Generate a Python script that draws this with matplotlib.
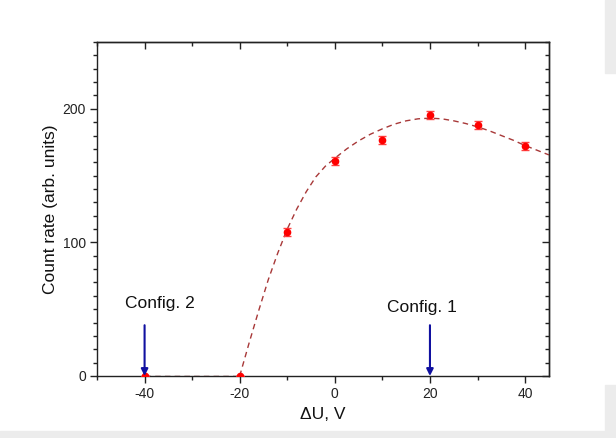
import matplotlib
matplotlib.use("Agg")
import matplotlib.pyplot as plt
from matplotlib.ticker import MultipleLocator
from matplotlib.patches import Rectangle

plt.rcParams['font.family'] = ['Liberation Sans', 'DejaVu Sans']
plt.rcParams['axes.unicode_minus'] = False

# measured count rate vs. retarding voltage
du = [-40, -20, -10, 0, 10, 20, 30, 40]
rate = [0, 0, 108, 161, 177, 195, 188, 172]
rate_err = [0, 0, 3, 3, 3, 3, 3, 3]

# fit curve (zero below threshold, then rising branch)
flat_x = [-40, -20]
flat_y = [0, 0]
fit_x = [-20, -18, -16, -14, -12, -10, -8, -6, -4, -2, 0, 2.5, 5, 7.5, 10,
         12.5, 15, 17.5, 20, 22.5, 25, 27.5, 30, 32.5, 35, 37.5, 40, 42.5, 45]
fit_y = [0, 25, 49, 72, 92, 110, 125, 138, 149, 157, 163, 170, 176, 181, 185,
         188.5, 191, 192.5, 193, 192.5, 191, 189, 186.5, 183.5, 180, 176.5, 172.5, 169, 165.5]

# configuration markers
cfg_x = [-40, 20]
cfg_labels = ['Config. 2', 'Config. 1']
cfg_text_x = [-36.8, 18.3]
cfg_text_y = [54.5, 51.5]

fig = plt.figure(figsize=(6.16, 4.38), dpi=100)
ax = fig.add_axes([0.1575, 0.1416, 0.7335, 0.7625])

ax.plot(flat_x, flat_y, '--', color='#7a1515', lw=1.0, dashes=(4, 3), zorder=2)
ax.plot(fit_x, fit_y, '--', color='#a83838', lw=1.0, dashes=(4, 3), zorder=2)
ax.errorbar(du, rate, yerr=rate_err, fmt='o', color='#ff0000', ms=4.5,
            ecolor='#ff4040', elinewidth=1.0, capsize=3, capthick=1.0, zorder=3)

for x, lab, tx, ty in zip(cfg_x, cfg_labels, cfg_text_x, cfg_text_y):
    ax.annotate('', xy=(x, 0), xytext=(x, 38),
                arrowprops=dict(arrowstyle='-|>', color='#1010a0', lw=1.5,
                                mutation_scale=10, shrinkA=0, shrinkB=0), zorder=4)
    ax.text(tx, ty, lab, ha='center', va='center', fontsize=12.5, color='#111111')

ax.set_xlim(-50, 45)
ax.set_ylim(0, 250)
ax.xaxis.set_major_locator(MultipleLocator(20))
ax.xaxis.set_minor_locator(MultipleLocator(10))
ax.yaxis.set_major_locator(MultipleLocator(100))
ax.yaxis.set_minor_locator(MultipleLocator(10))

ax.tick_params(which='both', direction='out', top=False, right=False,
               labelsize=10, colors='#222222', width=1.0)
ax.tick_params(which='major', length=5, pad=3)
ax.tick_params(which='minor', length=3)

# mirrored ticks on top/right, pointing inward
sec_x = ax.secondary_xaxis('top')
sec_x.xaxis.set_major_locator(MultipleLocator(20))
sec_x.xaxis.set_minor_locator(MultipleLocator(10))
sec_x.tick_params(which='both', direction='in', labeltop=False, width=1.0, colors='#222222')
sec_x.tick_params(which='major', length=5)
sec_x.tick_params(which='minor', length=3)
sec_y = ax.secondary_yaxis('right')
sec_y.yaxis.set_major_locator(MultipleLocator(100))
sec_y.yaxis.set_minor_locator(MultipleLocator(10))
sec_y.tick_params(which='both', direction='in', labelright=False, width=1.0, colors='#222222')
sec_y.tick_params(which='major', length=5)
sec_y.tick_params(which='minor', length=3)

for sp in list(ax.spines.values()) + [sec_x.spines['top'], sec_y.spines['right']]:
    sp.set_color('#222222')
    sp.set_linewidth(1.0)

ax.set_xlabel('\u0394U, V', fontsize=12.5, color='#111111', labelpad=4)
ax.set_ylabel('Count rate (arb. units)', fontsize=12.5, color='#111111', labelpad=3)

# light grey frame remnants at the page edge
fig.patches.append(Rectangle((0, 0), 1, 7 / 438, transform=fig.transFigure,
                             color='#ececec', zorder=0))
fig.patches.append(Rectangle((605 / 616, 0), 11 / 616, 53 / 438, transform=fig.transFigure,
                             color='#ececec', zorder=0))
fig.patches.append(Rectangle((605 / 616, 365 / 438), 11 / 616, 73 / 438, transform=fig.transFigure,
                             color='#ececec', zorder=0))

fig.savefig('out.png', dpi=100)
